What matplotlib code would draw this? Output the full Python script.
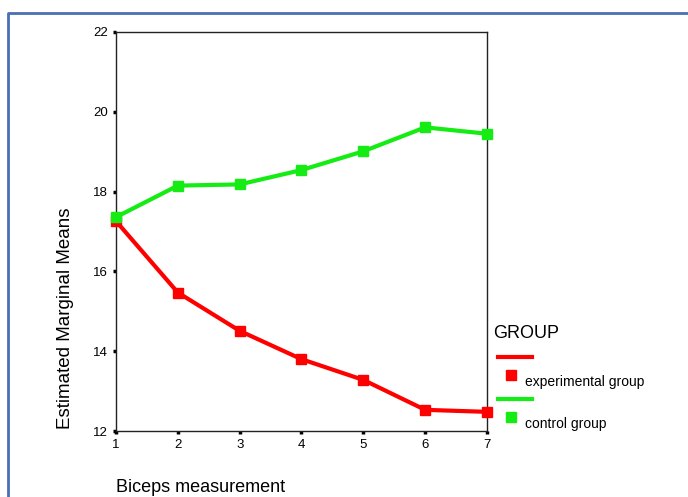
import matplotlib.pyplot as plt
from matplotlib.lines import Line2D

plt.rcParams['font.family'] = ['Liberation Sans', 'DejaVu Sans']

measurement = [1, 2, 3, 4, 5, 6, 7]
experimental = [17.26, 15.47, 14.51, 13.80, 13.28, 12.53, 12.48]
control = [17.36, 18.15, 18.18, 18.54, 19.01, 19.61, 19.45]
yticks = [12, 14, 16, 18, 20, 22]

red = '#ff0000'
green = '#14ec14'

W, H = 688, 497
fig = plt.figure(figsize=(W / 100, H / 100), dpi=100)


def px(x, y):
    return x / W, 1 - y / H


ax = fig.add_axes([116 / W, 1 - 431 / H, (487 - 116) / W, (431 - 32) / H])
ax.plot(measurement, experimental, color=red, lw=3, marker='s', ms=7,
        clip_on=False, zorder=3)
ax.plot(measurement, control, color=green, lw=3, marker='s', ms=7,
        clip_on=False, zorder=3)

ax.set_xlim(1, 7)
ax.set_ylim(12, 22)
ax.set_xticks(measurement)
ax.set_yticks(yticks)
for s in ax.spines.values():
    s.set_linewidth(1)
    s.set_color('#222222')
ax.tick_params(direction='out', length=2, width=2.5, labelsize=9.5,
               colors='black', pad=4)

# axis titles sit outside the plot box
fig.text(*px(66, 318), 'Estimated Marginal Means', rotation=90,
         ha='center', va='center', fontsize=13.5)
fig.text(*px(116, 488), 'Biceps measurement', ha='left', va='center',
         fontsize=13)

# legend drawn by hand, like the original
fig.text(*px(493, 334), 'GROUP', ha='left', va='center', fontsize=13)
entries = [(red, 'experimental group', 357), (green, 'control group', 399)]
for col, lab, y in entries:
    x0, y0 = px(498, y)
    x1, _ = px(532, y)
    fig.add_artist(Line2D([x0, x1], [y0, y0], color=col, lw=3,
                          transform=fig.transFigure))
    mx, my = px(511, y + 18)
    fig.add_artist(Line2D([mx], [my], color=col, marker='s', ms=6.5,
                          transform=fig.transFigure))
    fig.text(*px(525, y + 25), lab, ha='left', va='center', fontsize=10)

# blue frame around the figure
bx, by = px(8, H + 5)
tx, ty = px(8, 13)
ex, _ = px(W + 5, 13)
fig.add_artist(Line2D([bx, tx, ex], [by, ty, ty], color='#4a6fb5', lw=2,
                      transform=fig.transFigure))

fig.savefig('out.png', dpi=100)
